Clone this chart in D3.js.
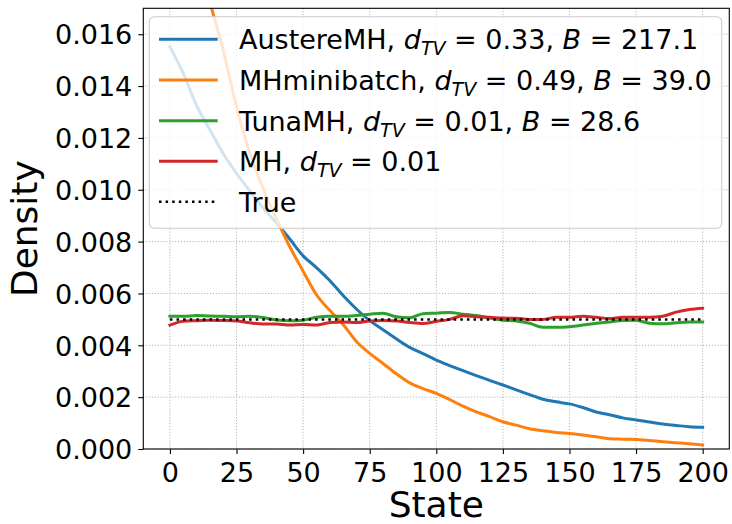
<!DOCTYPE html>
<html>
<head>
<meta charset="utf-8">
<script src="https://cdn.jsdelivr.net/npm/d3@7"></script>
<style>
  html, body { margin: 0; padding: 0; background: #fff; }
  svg { display: block; font-family: "DejaVu Sans", sans-serif; }
</style>
</head>
<body>
<svg id="chart" width="732" height="524"></svg>
<script>
// ---------------- data ----------------
const states = d3.range(0, 201, 5);
const austereMH = [0.01552,0.01449,0.01325,0.01231,0.01140,0.01063,0.00995,0.00930,0.00872,0.00810,
  0.00745,0.00700,0.00650,0.00592,0.00540,0.00495,0.00460,0.00425,0.00392,0.00368,
  0.00343,0.00322,0.00302,0.00283,0.00265,0.00247,0.00228,0.00210,0.00192,0.00182,
  0.00174,0.00160,0.00143,0.00132,0.00120,0.00112,0.00104,0.00096,0.00091,0.00086,0.00084];
const mhMinibatch = [0.0235,0.0213,0.0193,0.01725,0.01539,0.01320,0.01141,0.01005,0.00888,0.00780,
  0.00686,0.00595,0.00535,0.00480,0.00415,0.00369,0.00330,0.00290,0.00255,0.00233,
  0.00215,0.00191,0.00165,0.00143,0.00125,0.00105,0.00092,0.00078,0.00070,0.00064,
  0.00060,0.00054,0.00047,0.00040,0.00038,0.00037,0.00033,0.00028,0.00024,0.00020,0.00015];
const tunaMH = [0.00512,0.00512,0.00515,0.00513,0.00512,0.00510,0.00512,0.00507,0.00498,0.00495,
  0.00497,0.00508,0.00512,0.00512,0.00515,0.00520,0.00524,0.00510,0.00506,0.00522,
  0.00524,0.00527,0.00520,0.00515,0.00505,0.00497,0.00494,0.00485,0.00470,0.00470,
  0.00472,0.00478,0.00485,0.00490,0.00496,0.00497,0.00485,0.00483,0.00487,0.00490,0.00490];
const mh = [0.00478,0.00493,0.00495,0.00497,0.00496,0.00494,0.00487,0.00482,0.00482,0.00478,
  0.00480,0.00478,0.00488,0.00490,0.00488,0.00494,0.00496,0.00494,0.00488,0.00484,
  0.00492,0.00500,0.00514,0.00510,0.00508,0.00505,0.00504,0.00500,0.00500,0.00508,
  0.00508,0.00512,0.00508,0.00503,0.00508,0.00508,0.00508,0.00512,0.00528,0.00538,0.00543];
const trueDensity = states.map(() => 0.005);

const xTicks = [0, 25, 50, 75, 100, 125, 150, 175, 200];
const yTicks = [0, 0.002, 0.004, 0.006, 0.008, 0.010, 0.012, 0.014, 0.016];

const seriesNames = ["AustereMH", "MHminibatch", "TunaMH", "MH", "True"];
const seriesValues = [austereMH, mhMinibatch, tunaMH, mh, trueDensity];
const seriesColors = ["#1f77b4", "#ff7f0e", "#2ca02c", "#d62728", "#000000"];
const legendLabels = [
  [["AustereMH, ", ""], ["d", "i"], ["TV", "s"], [" = 0.33, ", ""], ["B", "i"], [" = 217.1", ""]],
  [["MHminibatch, ", ""], ["d", "i"], ["TV", "s"], [" = 0.49, ", ""], ["B", "i"], [" = 39.0", ""]],
  [["TunaMH, ", ""], ["d", "i"], ["TV", "s"], [" = 0.01, ", ""], ["B", "i"], [" = 28.6", ""]],
  [["MH, ", ""], ["d", "i"], ["TV", "s"], [" = 0.01", ""]],
  [["True", ""]]
];

// ---------------- layout ----------------
const svg = d3.select("#chart");
const L = 143.3, R = 729.3, T = 8.3, B = 449;
const x = d3.scaleLinear().domain([-10, 210]).range([L, R]);
const y = d3.scaleLinear().domain([0, 0.017]).range([B, T]);

svg.append("defs").append("clipPath").attr("id", "clip")
  .append("rect").attr("x", L).attr("y", T).attr("width", R - L).attr("height", B - T);

// grid
const grid = svg.append("g");
grid.selectAll("line.gx").data(xTicks).enter().append("line")
  .attr("x1", d => x(d)).attr("x2", d => x(d)).attr("y1", T).attr("y2", B)
  .attr("stroke", "#b0b0b0").attr("stroke-width", 1).attr("stroke-dasharray", "1.1,1.8");
grid.selectAll("line.gy").data(yTicks).enter().append("line")
  .attr("y1", d => y(d)).attr("y2", d => y(d)).attr("x1", L).attr("x2", R)
  .attr("stroke", "#b0b0b0").attr("stroke-width", 1).attr("stroke-dasharray", "1.1,1.8");

// lines
const line = d3.line().x((d, i) => x(states[i])).y(d => y(d)).curve(d3.curveMonotoneX);
const plot = svg.append("g").attr("clip-path", "url(#clip)");
seriesValues.forEach((vals, k) => {
  const p = plot.append("path").datum(vals).attr("d", line)
    .attr("fill", "none").attr("stroke", seriesColors[k])
    .attr("stroke-linejoin", "round");
  if (k === 4) {
    p.attr("stroke-width", 2.5).attr("stroke-dasharray", "2.5,4.1");
  } else {
    p.attr("stroke-width", 3).attr("stroke-linecap", "square");
  }
});

// axes
const xAxis = d3.axisBottom(x).tickValues(xTicks).tickSize(5).tickPadding(8).tickFormat(d3.format("d"));
const yAxis = d3.axisLeft(y).tickValues(yTicks).tickSize(5).tickPadding(6).tickFormat(d3.format(".3f"));
const gx = svg.append("g").attr("transform", `translate(0,${B})`).call(xAxis);
const gy = svg.append("g").attr("transform", `translate(${L},0)`).call(yAxis);
[gx, gy].forEach(g => {
  g.select(".domain").remove();
  g.selectAll(".tick line").attr("stroke", "#000").attr("stroke-width", 1.1);
  g.selectAll(".tick text").attr("fill", "#000").attr("font-size", 27)
    .attr("font-family", "DejaVu Sans");
});
gx.selectAll(".tick text").attr("dy", null).attr("y", 33);
gy.selectAll(".tick text").attr("dy", "0.36em");

// spines
svg.append("rect").attr("x", L).attr("y", T).attr("width", R - L).attr("height", B - T)
  .attr("fill", "none").attr("stroke", "#000").attr("stroke-width", 1.1);

// axis labels
svg.append("text").attr("x", (L + R) / 2).attr("y", 517).attr("text-anchor", "middle")
  .attr("font-size", 36).text("State");
svg.append("text").attr("transform", `translate(37,${(T + B) / 2}) rotate(-90)`)
  .attr("text-anchor", "middle").attr("font-size", 36).text("Density");

// legend
const lg = svg.append("g");
lg.append("rect").attr("x", 149.3).attr("y", 16.7).attr("width", 721.7 - 149.3).attr("height", 228.3 - 16.7)
  .attr("rx", 5).attr("ry", 5)
  .attr("fill", "#fff").attr("fill-opacity", 0.8)
  .attr("stroke", "#cccccc").attr("stroke-width", 1.1);
const rowY = [39.3, 80, 120.7, 161.3, 201.7];
seriesNames.forEach((name, k) => {
  const ly = rowY[k];
  const h = lg.append("line").attr("x1", 159).attr("x2", 217.7).attr("y1", ly).attr("y2", ly)
    .attr("stroke", seriesColors[k]);
  if (k === 4) h.attr("stroke-width", 2.5).attr("stroke-dasharray", "2.5,4.1");
  else h.attr("stroke-width", 3);
  const base = ly + 10;
  const t = lg.append("text").attr("x", 239).attr("y", base).attr("font-size", 27)
    .attr("fill", "#000");
  legendLabels[k].forEach(([s, st]) => {
    const ts = t.append("tspan").text(s).attr("y", base);
    if (st === "i") ts.attr("font-style", "italic");
    if (st === "s") ts.attr("font-style", "italic").attr("font-size", 19).attr("y", base + 6);
  });
});
</script>
</body>
</html>
